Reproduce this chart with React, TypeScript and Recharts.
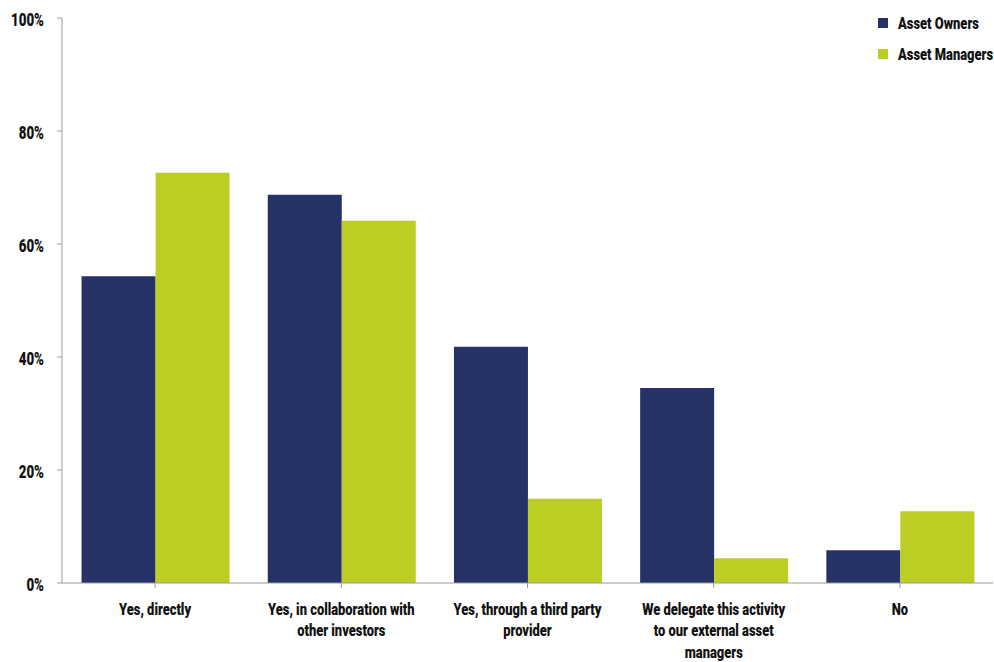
import React from 'react';
import { BarChart, Bar, XAxis, YAxis } from 'recharts';

const categories = [
  'Yes, directly',
  'Yes, in collaboration with\nother investors',
  'Yes, through a third party\nprovider',
  'We delegate this activity\nto our external asset\nmanagers',
  'No',
];
const assetOwners = [54.3, 68.7, 41.8, 34.5, 5.8];
const assetManagers = [72.6, 64.1, 14.9, 4.4, 12.7];
const yTicks = [0, 20, 40, 60, 80, 100];

const data = categories.map((name, i) => ({
  name,
  owners: assetOwners[i],
  managers: assetManagers[i],
}));

const FONT = 'Roboto, "DejaVu Sans", sans-serif';
const NAVY = '#263166';
const LIME = '#bccd23';
const SX = 0.76; // squeeze to mimic a condensed face

const CategoryTick = ({ x, y, payload }: any) => {
  const lines = String(payload.value).split('\n');
  return (
    <g transform={`translate(${x},${y}) scale(${SX},1)`}>
      <text x={0} y={0} textAnchor="middle" fontFamily={FONT} fontSize={17} fontWeight={900} fill="#111">
        {lines.map((line: string, i: number) => (
          <tspan key={i} x={0} y={25 + i * 21.5}>
            {line}
          </tspan>
        ))}
      </text>
    </g>
  );
};

const PercentTick = ({ x, y, payload }: any) => (
  <g transform={`translate(${x},${y}) scale(${SX},1)`}>
    <text x={0} y={8} textAnchor="end" fontFamily={FONT} fontSize={17.5} fontWeight={900} fill="#111">
      {`${payload.value}%`}
    </text>
  </g>
);

const legendItems = [
  { label: 'Asset Owners', color: NAVY },
  { label: 'Asset Managers', color: LIME },
];

export default function App() {
  return (
    <div style={{ position: 'absolute', left: 0, top: 0, width: 994, height: 662, background: '#fff' }}>
      <BarChart
        width={994}
        height={662}
        data={data}
        margin={{ top: 18, right: 1, left: 0, bottom: 0 }}
        barCategoryGap="10.5%"
        barGap={0}
      >
        <XAxis
          dataKey="name"
          height={79}
          interval={0}
          stroke="#9a9a9a"
          tickSize={5}
          tick={<CategoryTick />}
        />
        <YAxis
          domain={[0, 100]}
          ticks={yTicks}
          width={62}
          stroke="#9a9a9a"
          tickSize={5}
          tickMargin={13}
          tick={<PercentTick />}
        />
        <Bar dataKey="owners" name="Asset Owners" fill={NAVY} isAnimationActive={false} />
        <Bar dataKey="managers" name="Asset Managers" fill={LIME} isAnimationActive={false} />
      </BarChart>
      <div
        style={{
          position: 'absolute',
          left: 878,
          top: 7,
          fontFamily: FONT,
          fontSize: 17,
          fontWeight: 900,
          color: '#111',
        }}
      >
        {legendItems.map((item) => (
          <div key={item.label} style={{ display: 'flex', alignItems: 'center', height: 31, whiteSpace: 'nowrap' }}>
            <span style={{ width: 10, height: 10, background: item.color, marginRight: 10, display: 'inline-block' }} />
            <span style={{ display: 'inline-block', transform: `scaleX(${SX})`, transformOrigin: 'left center' }}>
              {item.label}
            </span>
          </div>
        ))}
      </div>
    </div>
  );
}
